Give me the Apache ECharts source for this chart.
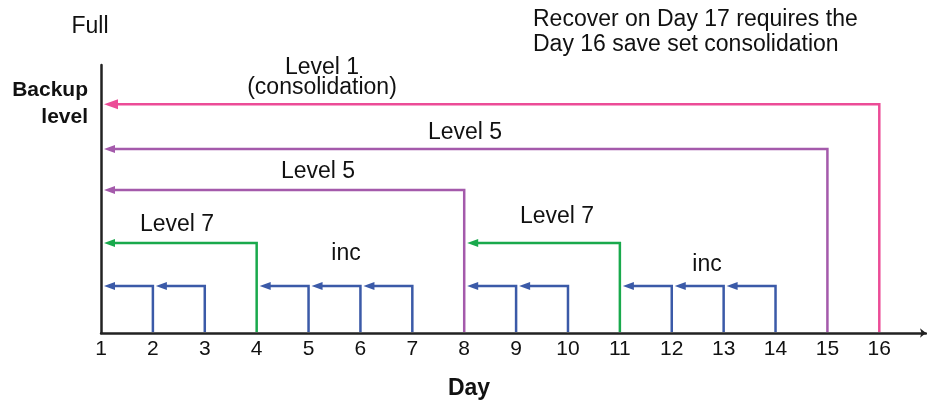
<!DOCTYPE html>
<html>
<head>
<meta charset="utf-8">
<script src="https://cdn.jsdelivr.net/npm/echarts@6/dist/echarts.min.js"></script>
<style>
  html, body { margin: 0; padding: 0; background: #fff; }
  #chart { width: 927px; height: 404px; }
</style>
</head>
<body>
<div id="chart"></div>
<script>
// day tick labels
const days = [1, 2, 3, 4, 5, 6, 7, 8, 9, 10, 11, 12, 13, 14, 15, 16]
// each backup: the day it runs, the day it refers back to, its type and arrow height
const backupDay = [2, 3, 4, 5, 6, 7, 8, 9, 10, 11, 12, 13, 14, 15, 16]
const refDay = [1, 2, 1, 4, 5, 6, 1, 8, 9, 8, 11, 12, 13, 1, 1]
const backupType = ['inc', 'inc', 'Level 7', 'inc', 'inc', 'inc', 'Level 5', 'inc', 'inc', 'Level 7', 'inc', 'inc', 'inc', 'Level 5', 'Level 1']
const arrowHeight = [17.5, 17.5, 33.6, 17.5, 17.5, 17.5, 53.4, 17.5, 17.5, 33.6, 17.5, 17.5, 17.5, 68.7, 85.4]

const typeColor = {
  'inc': '#3b5aa8',
  'Level 7': '#19a94c',
  'Level 5': '#a45aab',
  'Level 1': '#ec4c97'
}
const FONT = '"Liberation Sans", Arial, Helvetica, sans-serif'

const chart = echarts.init(document.getElementById('chart'))

const data = backupDay.map((d, i) => [d, refDay[i], arrowHeight[i], i])

// text helper for annotations
const txt = (x, y, text, opt = {}) => ({
  type: 'text',
  x: x,
  y: y,
  style: Object.assign({
    text: text,
    font: '23px ' + FONT,
    fill: '#111',
    align: 'center',
    verticalAlign: 'middle'
  }, opt)
})

chart.setOption({
  animation: false,
  grid: { left: 101, right: 1, top: 65, bottom: 71 },
  xAxis: {
    type: 'value',
    min: 1,
    max: 16.9,
    interval: 1,
    axisLine: {
      lineStyle: { color: '#222', width: 2.5 },
      symbol: ['none', 'arrow'],
      symbolSize: [7, 6]
    },
    axisTick: { show: false },
    splitLine: { show: false },
    axisLabel: {
      margin: 6,
      color: '#111',
      fontSize: 21,
      fontFamily: FONT,
      showMaxLabel: false,
      formatter: (v) => (days.includes(v) ? String(v) : '')
    }
  },
  yAxis: {
    type: 'value',
    min: 0,
    max: 100,
    axisLine: { show: true, lineStyle: { color: '#222', width: 2.5 } },
    axisTick: { show: false },
    axisLabel: { show: false },
    splitLine: { show: false }
  },
  series: [{
    type: 'custom',
    clip: false,
    data: data,
    renderItem: (params, api) => {
      const d = api.value(0)
      const r = api.value(1)
      const h = api.value(2)
      const idx = api.value(3)
      const color = typeColor[backupType[idx]]
      const base = api.coord([d, 0])
      const top = api.coord([d, h])
      const tip = api.coord([r, h])
      const big = backupType[idx] === 'Level 1'
      const tipX = tip[0] + 3
      const len = big ? 14 : 11
      const hw = big ? 5 : 4
      return {
        type: 'group',
        children: [
          {
            type: 'polyline',
            shape: { points: [[base[0], base[1] - 1], top, [tipX + len - 2, top[1]]] },
            style: { stroke: color, lineWidth: 2.5, fill: null }
          },
          {
            type: 'polygon',
            shape: { points: [[tipX, top[1]], [tipX + len, top[1] - hw], [tipX + len, top[1] + hw]] },
            style: { fill: color }
          }
        ]
      }
    }
  }],
  graphic: [
    txt(90, 27, 'Full'),
    txt(88, 90, 'Backup', { font: 'bold 21px ' + FONT, align: 'right' }),
    txt(88, 117, 'level', { font: 'bold 21px ' + FONT, align: 'right' }),
    txt(533, 20, 'Recover on Day 17 requires the', { align: 'left' }),
    txt(533, 45, 'Day 16 save set consolidation', { align: 'left' }),
    txt(322, 68, 'Level 1'),
    txt(322, 88, '(consolidation)'),
    txt(465, 133, 'Level 5'),
    txt(318, 172, 'Level 5'),
    txt(177, 225, 'Level 7'),
    txt(557, 217, 'Level 7'),
    txt(346, 254, 'inc'),
    txt(707, 265, 'inc'),
    txt(469, 389, 'Day', { font: 'bold 23px ' + FONT })
  ]
})
</script>
</body>
</html>
